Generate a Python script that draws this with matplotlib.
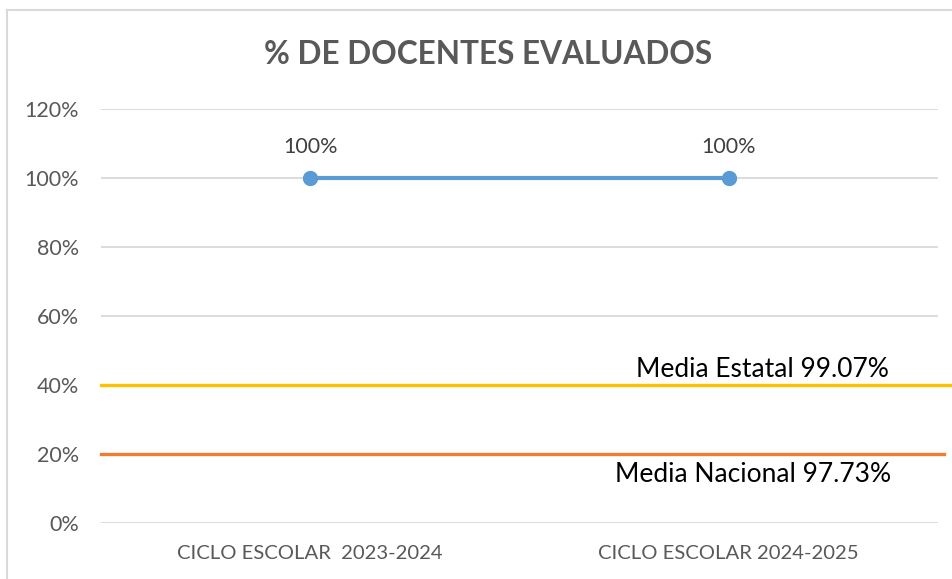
import matplotlib
matplotlib.use("Agg")
from matplotlib import pyplot as plt
from matplotlib.lines import Line2D
from matplotlib.ticker import PercentFormatter

categorias = ['CICLO ESCOLAR  2023-2024', 'CICLO ESCOLAR 2024-2025']
docentes_evaluados = [1.00, 1.00]
etiquetas_puntos = ['100%', '100%']

# lineas de referencia (dibujadas como formas en el original)
media_estatal_y = 0.40
media_nacional_y = 0.20
texto_estatal = 'Media Estatal 99.07%'
texto_nacional = 'Media Nacional 97.73%'

plt.rcParams['font.family'] = ['Lato', 'DejaVu Sans']

fig = plt.figure(figsize=(9.53, 5.79), dpi=100)
ax = fig.add_axes([101 / 953, 1 - 523 / 579, (938 - 101) / 953, (523 - 109) / 579])

# marco del grafico
fig.add_artist(Line2D([7 / 953, 7 / 953], [0, 1 - 10 / 579], transform=fig.transFigure, color='#D9D9D9', lw=1.5))
fig.add_artist(Line2D([7 / 953, 1], [1 - 10 / 579, 1 - 10 / 579], transform=fig.transFigure, color='#D9D9D9', lw=1.5))

x = list(range(len(categorias)))
ax.plot(x, docentes_evaluados, color='#5B9BD5', lw=3, marker='o', markersize=10, zorder=5, solid_capstyle='round')
for xi, yi, lab in zip(x, docentes_evaluados, etiquetas_puntos):
    ax.annotate(lab, (xi, yi), xytext=(0, 22), textcoords='offset points', ha='center', va='center',
                fontsize=15.5, color='#404040')

ax.plot([-0.5, 1.529], [media_estatal_y, media_estatal_y], color='#FFC000', lw=2.4, clip_on=False, zorder=4)
ax.plot([-0.5, 1.514], [media_nacional_y, media_nacional_y], color='#ED7D31', lw=2.4, clip_on=False, zorder=4)
ax.text(1.081, media_estatal_y + 0.046, texto_estatal, ha='center', va='center', fontsize=19, color='black')
ax.text(1.057, media_nacional_y - 0.058, texto_nacional, ha='center', va='center', fontsize=19, color='black')

ax.set_xlim(-0.5, 1.5)
ax.set_ylim(0, 1.2)
ax.set_yticks([0, 0.2, 0.4, 0.6, 0.8, 1.0, 1.2])
ax.yaxis.set_major_formatter(PercentFormatter(1.0, decimals=0))
ax.set_xticks(x)
ax.set_xticklabels(categorias)
ax.tick_params(axis='y', length=0, pad=16, labelsize=15.5, labelcolor='#595959')
ax.tick_params(axis='x', length=0, pad=16, labelsize=14.6, labelcolor='#595959')
ax.grid(axis='y', color='#D9D9D9', lw=1.3)
ax.set_axisbelow(True)
for s in ax.spines.values():
    s.set_visible(False)

fig.text(488 / 953, 1 - 54 / 579, '% DE DOCENTES EVALUADOS', ha='center', va='center',
         fontsize=22.7, fontweight='bold', color='#595959')

fig.savefig('out.png', dpi=100)
